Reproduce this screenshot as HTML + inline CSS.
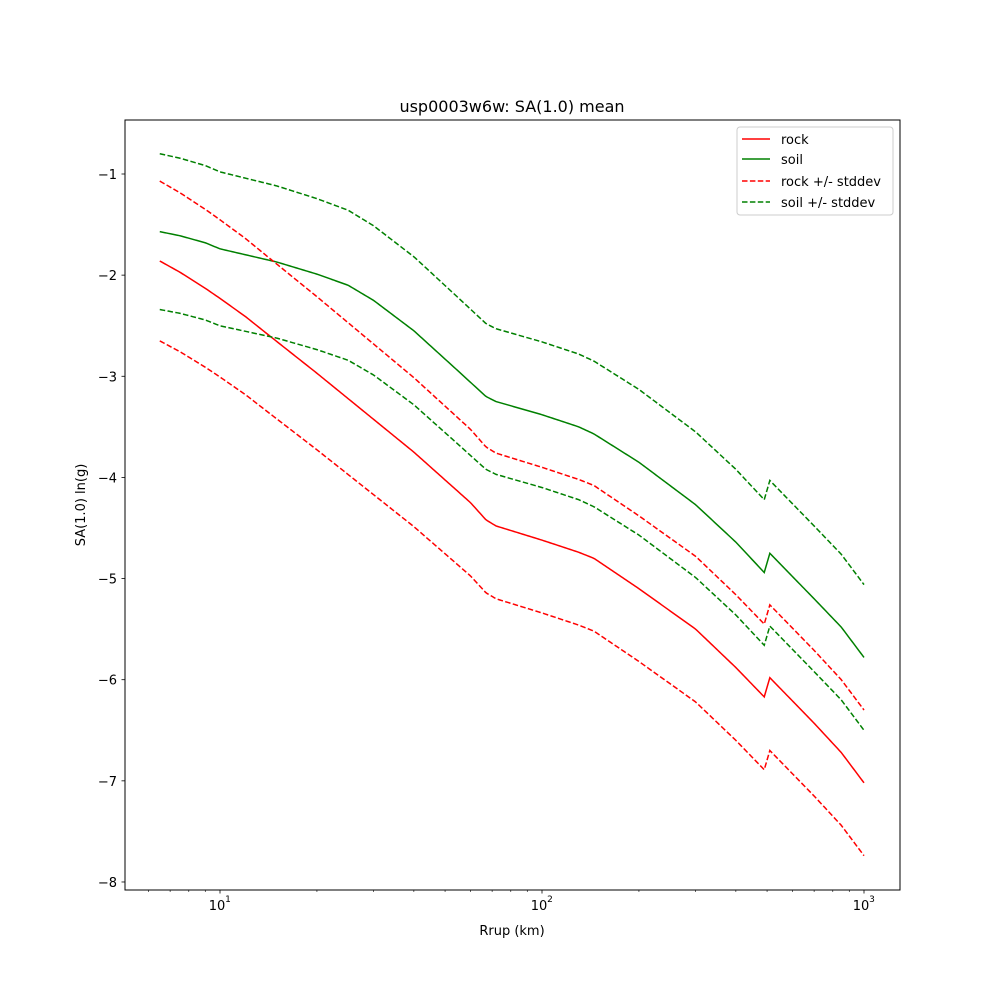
<!DOCTYPE html>
<html><head><meta charset="utf-8"><style>
body{margin:0;background:#fff}
svg{display:block;font-family:"DejaVu Sans","Liberation Sans",sans-serif}
</style></head><body>
<svg id="s" width="1000" height="1000" xmlns="http://www.w3.org/2000/svg">
<rect width="1000" height="1000" fill="#fff"/>
<text x="512" y="112" font-size="16" text-anchor="middle">usp0003w6w: SA(1.0) mean</text>
<g id="plot"></g>
<rect x="125" y="120" width="775" height="770" fill="none" stroke="#000" stroke-width="1"/>
<text x="512" y="935" font-size="13" text-anchor="middle">Rrup (km)</text>
<text transform="translate(85,505) rotate(-90)" font-size="13" text-anchor="middle">SA(1.0) ln(g)</text>
<g>
<rect x="737" y="127" width="156" height="88" fill="#fff" stroke="#ccc" rx="3"/>
<line x1="742" y1="139" x2="770" y2="139" stroke="red" stroke-width="1.5"/>
<text x="781" y="144" font-size="13">rock</text>
<line x1="742" y1="159" x2="770" y2="159" stroke="green" stroke-width="1.5"/>
<text x="781" y="164" font-size="13">soil</text>
<line x1="742" y1="181" x2="770" y2="181" stroke="red" stroke-width="1.5" stroke-dasharray="5.5,2.4"/>
<text x="781" y="186" font-size="13">rock +/- stddev</text>
<line x1="742" y1="202" x2="770" y2="202" stroke="green" stroke-width="1.5" stroke-dasharray="5.5,2.4"/>
<text x="781" y="207" font-size="13">soil +/- stddev</text>
</g>
</svg>
<script>
var g=document.getElementById('plot'),NS='http://www.w3.org/2000/svg';
function X(r){return 220+322*Math.log10(r/10);}
function Y(v){return 174+(-1-v)*101.14;}
function el(t,a,txt){var e=document.createElementNS(NS,t);for(var k in a)e.setAttribute(k,a[k]);if(txt!=null)e.textContent=txt;g.appendChild(e);return e;}
// ticks
for(var d=1;d<=1000;d*=10){for(var m=1;m<10;m++){var r=d*m;var x=X(r);if(x<125||x>900)continue;
 var major=(m==1);el('line',{x1:x,y1:890,x2:x,y2:major?893.5:892,stroke:'#000','stroke-width':major?0.8:0.6});
 if(major&&d>=10){var e=el('text',{x:x-3,y:910,'font-size':13,'text-anchor':'middle'},'10');
  el('text',{x:x+8,y:902,'font-size':9,'text-anchor':'middle'},String(Math.round(Math.log10(d))));}}}
for(var v=-1;v>=-8;v--){var y=Y(v);el('line',{x1:121.5,y1:y,x2:125,y2:y,stroke:'#000','stroke-width':0.8});
 el('text',{x:117,y:y+5,'font-size':13,'text-anchor':'end'},'\u2212'+(-v));}
function interp(pts,r){var lr=Math.log10(r);for(var i=0;i<pts.length-1;i++){var a=pts[i],b=pts[i+1];
 if(r<=b[0]){var t=(lr-Math.log10(a[0]))/(Math.log10(b[0])-Math.log10(a[0]));return a[1]+t*(b[1]-a[1]);}}return pts[pts.length-1][1];}
var rock=[[6.5,-1.86],[7.5,-1.97],[9,-2.13],[10,-2.23],[12,-2.41],[14,-2.58],[20,-2.97],[40,-3.75],[60,-4.25],[67,-4.42],[72,-4.48],[100,-4.62],[130,-4.74],[145,-4.80],[200,-5.1],[300,-5.5],[400,-5.88],[490,-6.17],[510,-5.98],[700,-6.43],[850,-6.72],[1000,-7.02]];
var soil=[[6.5,-1.57],[7.5,-1.61],[9,-1.68],[10,-1.74],[15,-1.87],[20,-1.99],[25,-2.1],[30,-2.25],[40,-2.55],[55,-2.95],[67,-3.2],[72,-3.25],[100,-3.38],[130,-3.5],[145,-3.57],[200,-3.85],[300,-4.27],[400,-4.64],[490,-4.94],[510,-4.75],[700,-5.2],[850,-5.48],[1000,-5.78]];
function sig(r,base){var lr=Math.log10(r);var t=Math.min(1,Math.max(0,(lr-Math.log10(6.5))/(Math.log10(70)-Math.log10(6.5))));return base-(base-0.72)*t;}
var rs=[];for(var i=0;i<=400;i++){var r=6.5*Math.pow(1000/6.5,i/400);rs.push(r);}
[490,510].forEach(function(q){rs.push(q);});rs.sort(function(a,b){return a-b;});
function path(pts,off,base,col,dash){var d='';rs.forEach(function(r,i){if(r>490&&r<510)return;var v=interp(pts,r)+off*sig(r,base);d+=(d?'L':'M')+X(r).toFixed(2)+','+Y(v).toFixed(2);});
 var a={d:d,fill:'none',stroke:col,'stroke-width':1.5};if(dash)a['stroke-dasharray']='5.5,2.4';el('path',a);}
path(rock,0,0.79,'red');path(soil,0,0.77,'green');
path(rock,1,0.79,'red',1);path(rock,-1,0.79,'red',1);
path(soil,1,0.77,'green',1);path(soil,-1,0.77,'green',1);
</script>
</body></html>
